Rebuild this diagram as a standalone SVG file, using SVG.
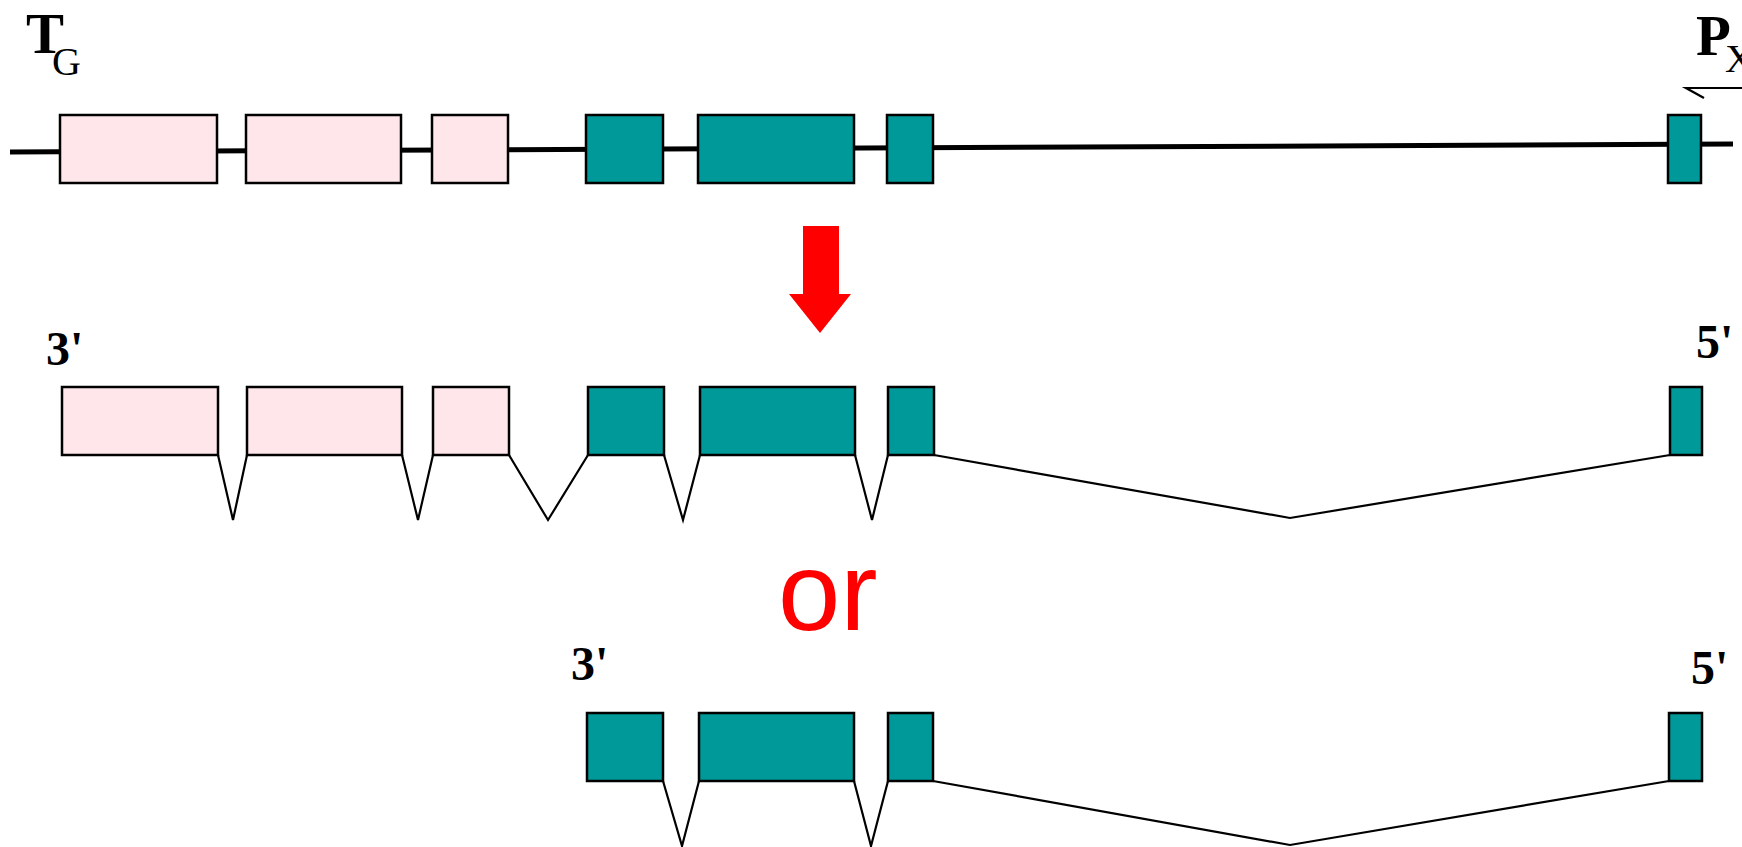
<svg xmlns="http://www.w3.org/2000/svg" width="1742" height="847" viewBox="0 0 1742 847">
<style>
.bg{fill:#ffffff}
.pink{fill:#FFE6EA;stroke:#000;stroke-width:2.5}
.teal{fill:#009999;stroke:#000;stroke-width:2.5}
.gene{stroke:#000;stroke-width:5;fill:none}
.splice{stroke:#000;stroke-width:2.2;fill:none;stroke-linejoin:miter}
.lbl{font-family:"Liberation Serif","Times New Roman",serif;font-weight:bold;fill:#000}
.sub{font-family:"Liberation Serif","Times New Roman",serif;font-weight:normal;fill:#000}
.or{font-family:"Liberation Sans",Arial,sans-serif;fill:#FF0000}
</style>
<rect class="bg" x="0" y="0" width="1742" height="847"/>

<g id="connectors">
  <line class="gene" x1="10" y1="152" x2="1733" y2="144"/>
  <polyline class="splice" points="218,455 233,520 247,455"/>
  <polyline class="splice" points="402,455 418,520 433,455"/>
  <polyline class="splice" points="509,455 548,520 588,455"/>
  <polyline class="splice" points="664,455 683,520 700,455"/>
  <polyline class="splice" points="855,455 872,520 888,455"/>
  <polyline class="splice" points="934,455 1290,518 1670,455"/>
  <polyline class="splice" points="663,781 682,846 699,781"/>
  <polyline class="splice" points="854,781 871,846 888,781"/>
  <polyline class="splice" points="933,781 1290,845 1669,781"/>
  <polyline class="splice" points="1742,88 1686,88 1704,98"/>
</g>

<g id="label-TG">
  <text class="lbl" x="26" y="53" font-size="57">T</text>
  <text class="sub" x="52" y="75" font-size="40">G</text>
</g>
<g id="label-PX">
  <text class="lbl" x="1696" y="55" font-size="57">P</text>
  <text class="sub" x="1725" y="72" font-size="40">X</text>
</g>

<g id="row1">
  <g id="r1-e1"><rect class="pink" x="60" y="115" width="157" height="68"/></g>
  <g id="r1-e2"><rect class="pink" x="246" y="115" width="155" height="68"/></g>
  <g id="r1-e3"><rect class="pink" x="432" y="115" width="76" height="68"/></g>
  <g id="r1-e4"><rect class="teal" x="586" y="115" width="77" height="68"/></g>
  <g id="r1-e5"><rect class="teal" x="698" y="115" width="156" height="68"/></g>
  <g id="r1-e6"><rect class="teal" x="887" y="115" width="46" height="68"/></g>
  <g id="r1-e7"><rect class="teal" x="1668" y="115" width="33" height="68"/></g>
</g>

<g id="arrow-down">
  <polygon fill="#FF0000" points="803,226 839,226 839,294 851,294 820,333 789,294 803,294"/>
</g>

<g id="row2">
  <text class="lbl" x="46" y="365" font-size="48">3'</text>
  <text class="lbl" x="1696" y="358" font-size="48">5'</text>
  <g id="r2-e1"><rect class="pink" x="62" y="387" width="156" height="68"/></g>
  <g id="r2-e2"><rect class="pink" x="247" y="387" width="155" height="68"/></g>
  <g id="r2-e3"><rect class="pink" x="433" y="387" width="76" height="68"/></g>
  <g id="r2-e4"><rect class="teal" x="588" y="387" width="76" height="68"/></g>
  <g id="r2-e5"><rect class="teal" x="700" y="387" width="155" height="68"/></g>
  <g id="r2-e6"><rect class="teal" x="888" y="387" width="46" height="68"/></g>
  <g id="r2-e7"><rect class="teal" x="1670" y="387" width="32" height="68"/></g>
</g>

<g id="label-or">
  <text class="or" x="778" y="630" font-size="112">or</text>
</g>

<g id="row3">
  <text class="lbl" x="571" y="680" font-size="48">3'</text>
  <text class="lbl" x="1691" y="684" font-size="48">5'</text>
  <g id="r3-e4"><rect class="teal" x="587" y="713" width="76" height="68"/></g>
  <g id="r3-e5"><rect class="teal" x="699" y="713" width="155" height="68"/></g>
  <g id="r3-e6"><rect class="teal" x="888" y="713" width="45" height="68"/></g>
  <g id="r3-e7"><rect class="teal" x="1669" y="713" width="33" height="68"/></g>
</g>
</svg>
